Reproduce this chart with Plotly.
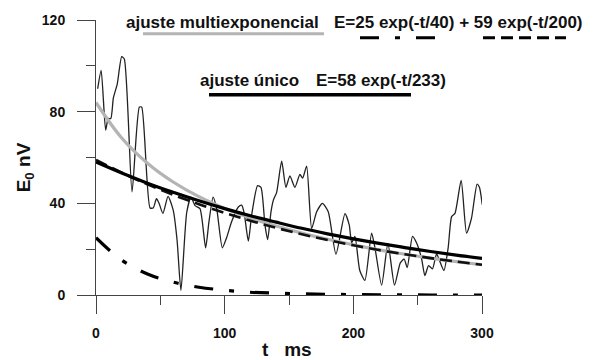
import plotly.graph_objects as go

# ---------------- data ----------------
t_data = [1.3, 4, 7.5, 9.5, 11.5, 13.5, 16.5, 20, 22, 28, 33.7, 35.5, 42, 44.5, 47, 49, 52,
          56, 60, 63, 66, 70.5, 73.8, 77, 80.8, 85.2, 87.8, 91, 93.8, 98.2, 101.5, 105.4,
          110.6, 113.2, 115.2, 118.4, 121, 125.6, 128.2, 131.3, 133.4, 136, 137.8, 140.4,
          144.3, 147.6, 150.7, 154.6, 158.5, 160.6, 163.7, 167.6, 171.5, 176, 180.5, 186.5,
          193.5, 196.8, 198.7, 201.2, 205, 209, 214.2, 216.8, 222, 226.9, 232, 236.5, 239.5,
          241.9, 246, 249.1, 253, 255.6, 258.5, 261.5, 264.7, 267, 270.4, 273.7, 276.4, 279,
          283.8, 288, 291.8, 296.2, 298, 300.2]
e_data = [90, 98, 72, 77, 77, 86, 92, 104, 103, 45, 82, 82, 38, 38, 42, 40, 35.6,
          43, 37, 24, 2, 36, 42.7, 39, 37.7, 20.6, 32, 42.7, 37.7, 20.6, 25, 32,
          38.4, 39.2, 35.6, 23.5, 35, 47.7, 47, 30.6, 24.2, 36.3, 41.3, 44.8,
          58.4, 47, 52, 47, 52.6, 51, 56.2, 29, 36.3, 40, 36.3, 17.8,
          35.5, 30.6, 22.8, 25.6, 10.7, 6.4, 27, 20.6, 4.3, 22.5, 4.3, 14, 15.7,
          12, 25.6, 22.8, 16, 8.5, 12.8, 11.4, 18, 15, 10.7, 20.6, 34.2, 35.6,
          50, 27, 33.4, 48.4, 47, 39.4]

t_fit = [0, 20, 40, 60, 80, 100, 120, 140, 160, 180, 200, 220, 240, 260, 280, 300]
e_multi = [84.0, 68.5, 57.5, 49.3, 42.9, 37.8, 33.6, 30.1, 27.0, 24.3, 21.9, 19.7, 17.8, 16.1, 14.6, 13.2]
e_slow = [59.0, 53.4, 48.3, 43.7, 39.6, 35.8, 32.4, 29.3, 26.5, 24.0, 21.7, 19.6, 17.8, 16.1, 14.6, 13.2]
e_fast = [25.0, 15.2, 9.2, 5.6, 3.4, 2.1, 1.2, 0.8, 0.5, 0.3, 0.2, 0.1, 0.1, 0.0, 0.0, 0.0]
e_single = [58.0, 53.2, 48.8, 44.8, 41.1, 37.7, 34.6, 31.8, 29.1, 26.7, 24.5, 22.5, 20.7, 19.0, 17.4, 16.0]

x_ticks = [0, 100, 200, 300]
y_ticks = [0, 40, 80, 120]

FONT = "Liberation Sans, Arial, sans-serif"

fig = go.Figure()
fig.add_trace(go.Scatter(x=t_data, y=e_data, mode="lines",
                         line=dict(color="#222222", width=1.3, shape="spline", smoothing=0.6)))
fig.add_trace(go.Scatter(x=t_fit, y=e_multi, mode="lines",
                         line=dict(color="#b4b4b4", width=3.2, shape="spline")))
fig.add_trace(go.Scatter(x=t_fit, y=e_slow, mode="lines",
                         line=dict(color="#111111", width=2.6, shape="spline", dash="12px,6px")))
fig.add_trace(go.Scatter(x=t_fit, y=e_single, mode="lines",
                         line=dict(color="#000000", width=3.2, shape="spline")))
fig.add_trace(go.Scatter(x=t_fit, y=e_fast, mode="lines",
                         line=dict(color="#000000", width=3.2, shape="spline",
                                   dash="19px,16px,5px,16px")))

# plot area in pixels: x 96..482, y 15..295
L, R, T, B = 96, 482, 15, 295
W, H = R - L, B - T


def px(x):
    return (x - L) / W


def py(y):
    return (B - y) / H


shapes = [
    dict(type="line", xref="paper", yref="paper", x0=px(143), x1=px(324), y0=py(29), y1=py(29),
         line=dict(color="#b4b4b4", width=3)),
    dict(type="line", xref="paper", yref="paper", x0=px(360), x1=px(436), y0=py(33), y1=py(33),
         line=dict(color="#000000", width=3, dash="19px,16px,5px,16px")),
    dict(type="line", xref="paper", yref="paper", x0=px(483), x1=px(566), y0=py(33), y1=py(33),
         line=dict(color="#000000", width=3, dash="12px,6px")),
    dict(type="line", xref="paper", yref="paper", x0=px(209), x1=px(411), y0=py(91), y1=py(91),
         line=dict(color="#000000", width=3.5)),
]

ann_font = dict(family=FONT, size=17, color="#111111", weight="bold")
annotations = [
    dict(text="ajuste multiexponencial", x=px(124), y=py(18), xanchor="left", yanchor="middle"),
    dict(text="E=25 exp(-t/40) + 59 exp(-t/200)", x=px(332), y=py(18), xanchor="left", yanchor="middle"),
    dict(text="ajuste único", x=px(198), y=py(77), xanchor="left", yanchor="middle"),
    dict(text="E=58 exp(-t/233)", x=px(314), y=py(77), xanchor="left", yanchor="middle"),
    dict(text="t   ms", x=px(287), y=py(350), xanchor="center", yanchor="middle",
         font=dict(family=FONT, size=19, color="#111111", weight="bold")),
    dict(text="E<sub>0</sub> nV", x=px(25), y=py(165), xanchor="center", yanchor="middle",
         textangle=-90, font=dict(family=FONT, size=19, color="#111111", weight="bold")),
]
for a in annotations:
    a.update(xref="paper", yref="paper", showarrow=False)
    a.setdefault("font", ann_font)

axis_common = dict(
    showline=True, linecolor="#444444", linewidth=1,
    ticks="outside", ticklen=18, tickwidth=1, tickcolor="#444444",
    showgrid=False, zeroline=False,
    tickfont=dict(family=FONT, size=14, color="#111111", weight="bold"),
)

fig.update_layout(
    width=596, height=360,
    margin=dict(l=L, r=596 - R, t=T, b=360 - B),
    paper_bgcolor="white", plot_bgcolor="white",
    showlegend=False,
    shapes=shapes, annotations=annotations,
    xaxis=dict(range=[0, 300], tickvals=x_ticks, ticktext=[str(v) for v in x_ticks],
               minor=dict(ticks="outside", ticklen=9, tickwidth=1, tickcolor="#444444", dtick=50, tick0=0),
               ticklabelstandoff=7, **axis_common),
    yaxis=dict(range=[0, 120], tickvals=y_ticks, ticktext=[str(v) for v in y_ticks],
               minor=dict(ticks="outside", ticklen=9, tickwidth=1, tickcolor="#444444", dtick=20, tick0=0),
               ticklabelstandoff=9, **axis_common),
)

fig.write_html("out.html")
